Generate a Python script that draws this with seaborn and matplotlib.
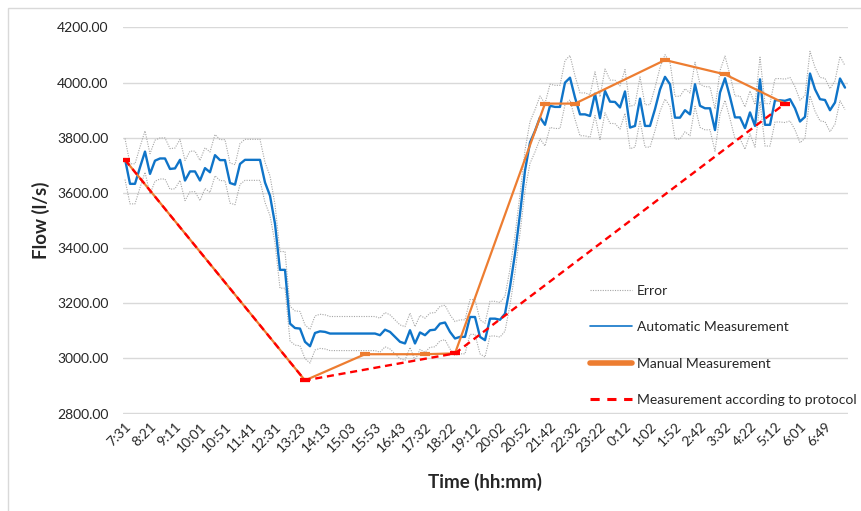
import numpy as np
import pandas as pd
import matplotlib
matplotlib.use("Agg")
import matplotlib.pyplot as plt
import seaborn as sns
from matplotlib.lines import Line2D
from matplotlib.patches import Rectangle

# ---------------- data ----------------
tick_labels = ["7:31", "8:21", "9:11", "10:01", "10:51", "11:41", "12:31", "13:23",
               "14:13", "15:03", "15:53", "16:43", "17:32", "18:22", "19:12", "20:02",
               "20:52", "21:42", "22:32", "23:22", "0:12", "1:02", "1:52", "2:42",
               "3:32", "4:22", "5:12", "6:01", "6:49"]
TICK_STEP = 5

auto_flow = [
    3723, 3633, 3633, 3693, 3750, 3669, 3717, 3725, 3725, 3687,
    3689, 3720, 3645, 3678, 3678, 3645, 3690, 3675, 3737, 3719,
    3719, 3636, 3630, 3705, 3720, 3720, 3720, 3720, 3638, 3590,
    3488, 3321, 3321, 3126, 3110, 3108, 3060, 3044, 3092, 3098,
    3096, 3090, 3090, 3090, 3090, 3090, 3090, 3090, 3090, 3090,
    3090, 3084, 3104, 3096, 3078, 3060, 3054, 3102, 3054, 3094,
    3084, 3102, 3104, 3126, 3130, 3096, 3072, 3078, 3078, 3150,
    3150, 3078, 3066, 3144, 3144, 3140, 3162, 3259, 3379, 3524,
    3681, 3783, 3825, 3874, 3847, 3916, 3912, 3912, 4000, 4018,
    3946, 3885, 3885, 3879, 3960, 3871, 3970, 3931, 3930, 3910,
    3968, 3837, 3843, 3942, 3843, 3843, 3904, 3975, 4021, 3994,
    3873, 3873, 3900, 3885, 3994, 3916, 3907, 3907, 3828, 3964,
    4016, 3948, 3874, 3874, 3835, 3892, 3843, 4012, 3847, 3847,
    3936, 3936, 3934, 3940, 3907, 3859, 3876, 4033, 3976, 3940,
    3937, 3900, 3928, 4015, 3982,
]
ERROR_PCT = 2.0  # relative measurement error shown by the grey band

manual_idx = [0, 36, 48, 60, 66, 84, 90, 108, 120, 132]
manual_flow = [3720, 2920, 3015, 3015, 3018, 3924, 3924, 4082, 4030, 3924]

protocol_idx = [0, 36, 66, 132]
protocol_flow = [3720, 2920, 3018, 3924]

y_ticks = [2800, 3000, 3200, 3400, 3600, 3800, 4000, 4200]

# ---------------- frames ----------------
n = len(auto_flow)
auto_df = pd.DataFrame({"idx": np.arange(n), "flow": auto_flow})
auto_df["upper"] = auto_df["flow"] * (1 + ERROR_PCT / 100)
auto_df["lower"] = auto_df["flow"] * (1 - ERROR_PCT / 100)
manual_df = pd.DataFrame({"idx": manual_idx, "flow": manual_flow})
protocol_df = pd.DataFrame({"idx": protocol_idx, "flow": protocol_flow})

# ---------------- style ----------------
sns.set_theme(style="white")
plt.rcParams["font.family"] = ["Lato", "DejaVu Sans"]

W, H = 861, 511
fig = plt.figure(figsize=(W / 100, H / 100), dpi=100)
fig.patch.set_facecolor("white")
ax = fig.add_axes([122.5 / W, (H - 413.5) / H, 725 / W, 386 / H])
ax.set_facecolor("white")

c_err = "#A6A6A6"
c_auto = "#0F74C8"
c_man = "#ED7D31"
c_prot = "#FF0000"

sns.lineplot(data=auto_df, x="idx", y="upper", ax=ax, color=c_err, lw=0.8,
             linestyle=(0, (1, 1.2)), zorder=2)
sns.lineplot(data=auto_df, x="idx", y="lower", ax=ax, color=c_err, lw=0.8,
             linestyle=(0, (1, 1.2)), zorder=2)
sns.lineplot(data=auto_df, x="idx", y="flow", ax=ax, color=c_auto, lw=1.7, zorder=3)
sns.lineplot(data=manual_df, x="idx", y="flow", ax=ax, color=c_man, lw=1.6,
             marker="_", markersize=6.5, markeredgewidth=3, markeredgecolor=c_man, zorder=4)
sns.lineplot(data=protocol_df, x="idx", y="flow", ax=ax, color=c_prot, lw=1.7,
             linestyle=(0, (3, 2)), marker="_", markersize=6.5, markeredgewidth=3,
             markeredgecolor=c_prot, zorder=5)

ax.set_xlim(-0.5, n - 0.5)
ax.set_ylim(2800, 4200)
ax.set_yticks(y_ticks)
ax.set_yticklabels([f"{v:.2f}" for v in y_ticks])
ax.set_xticks(np.arange(0, len(tick_labels) * TICK_STEP, TICK_STEP))
ax.set_xticklabels(tick_labels, rotation=45, ha="right", va="top", rotation_mode="anchor")
ax.yaxis.grid(True, color="#D9D9D9", lw=1)
ax.xaxis.grid(False)
for s in ax.spines.values():
    s.set_visible(False)
ax.tick_params(axis="y", length=0, pad=10, labelsize=10, labelcolor="#262626")
ax.tick_params(axis="x", length=0, pad=5, labelsize=10, labelcolor="#262626")

ax.set_xlabel("Time (hh:mm)", fontsize=13.5, fontweight="bold", labelpad=13)
ax.set_ylabel("Flow (l/s)", fontsize=13.5, fontweight="bold", labelpad=5)

handles = [
    Line2D([], [], color=c_err, lw=0.8, linestyle=(0, (1, 1.2))),
    Line2D([], [], color=c_auto, lw=1.2),
    Line2D([], [], color=c_man, lw=4),
    Line2D([], [], color=c_prot, lw=2.2, linestyle=(0, (3, 2.5))),
]
labels = ["Error", "Automatic Measurement", "Manual Measurement",
          "Measurement according to protocol"]
ax.legend(handles, labels, loc="upper left", bbox_to_anchor=(590 / W, (H - 285) / H),
          bbox_transform=fig.transFigure, frameon=False, fontsize=10,
          handlelength=3.0, handletextpad=0.35, labelspacing=1.75,
          borderpad=0, borderaxespad=0)

# chart-area border (top and left visible)
fig.add_artist(Rectangle((7.5 / W, -0.05), 1.2, (H - 8) / H + 0.05, transform=fig.transFigure,
                         fill=False, edgecolor="#D9D9D9", lw=1))

fig.savefig("out.png", dpi=100)
